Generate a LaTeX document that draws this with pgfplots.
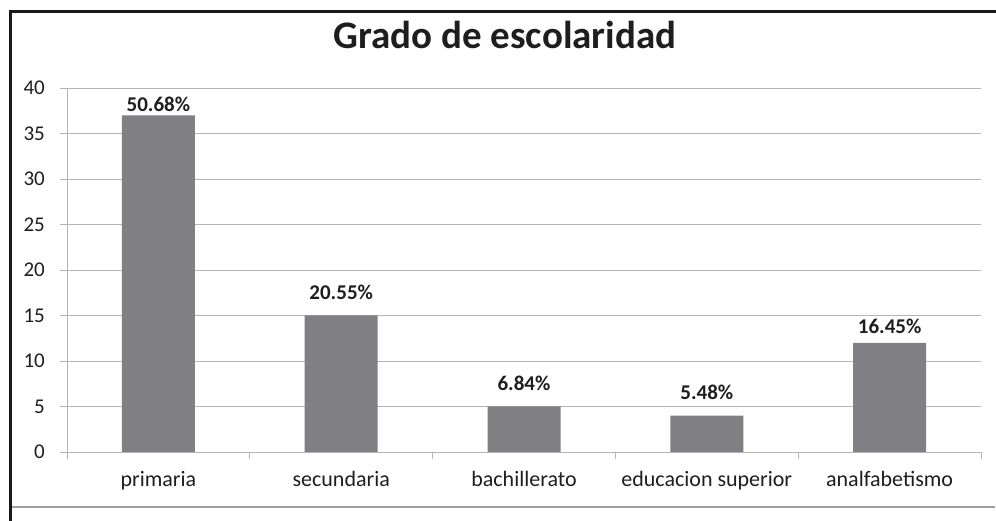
\documentclass[border=0pt]{standalone}
\usepackage{pgfplots}
\pgfplotsset{compat=1.18}
\usepackage{pgfplotstable}
\usepackage{fontspec}
\setmainfont{Carlito}
\definecolor{barfill}{RGB}{128,128,132}
\definecolor{gridc}{RGB}{180,180,180}
\definecolor{txt}{RGB}{30,30,30}

% values (count) and the printed share above each bar; dy = gap above bar
\pgfplotstableread{
x y lbl dy
0 37 50.68 4
1 15 20.55 15.7
2 5 6.84 15.7
3 4 5.48 15.7
4 12 16.45 9
}\escolaridad

\begin{document}
\begin{tikzpicture}[x=1pt,y=1pt]
\useasboundingbox (0,0) rectangle (996,521);
\begin{axis}[
  at={(67pt,69pt)}, anchor=south west,
  scale only axis, width=914pt, height=364pt,
  ybar, bar width=73pt,
  xmin=-0.5, xmax=4.5, ymin=0, ymax=40,
  ytick={0,5,...,40},
  xtick={0,...,4},
  xticklabels={primaria,secundaria,bachillerato,educacion superior,analfabetismo},
  minor xtick={-0.5,0.5,...,4.5},
  major x tick style={draw=none},
  tick align=outside,
  major tick length=7pt, minor tick length=7pt,
  tick style={draw=gridc, thick},
  axis x line*=bottom, axis y line*=left,
  axis line style={-, draw=gridc, thick},
  ymajorgrids, grid style={draw=gridc, thick},
  /pgf/number format/assume math mode=true,
  tick label style={text=txt},
  yticklabel style={inner sep=0pt, xshift=-15pt, font=\fontsize{21}{24}\selectfont},
  xticklabel style={anchor=base, inner sep=0pt, yshift=-28pt, font=\fontsize{22}{24}\selectfont},
  point meta=explicit symbolic,
  nodes near coords={\pgfplotspointmeta\%},
  visualization depends on={\thisrow{dy} \as \dy},
  every node near coord/.append style={anchor=base, inner sep=0pt,
    yshift=\dy pt, font=\bfseries\fontsize{21}{24}\selectfont, text=txt},
]
\addplot[fill=barfill, draw=none] table[x=x, y=y, meta=lbl] {\escolaridad};
\end{axis}
\node[anchor=base, font=\bfseries\fontsize{39}{42}\selectfont, text=txt] at (505,472) {Grado de escolaridad};
\draw[line width=3pt, black!90] (8.5,509.7) -- (996,509.7);
\draw[line width=3pt, black!90] (10,511.2) -- (10,0);
\draw[line width=2pt, black!38] (11.5,14) -- (995,14);
\end{tikzpicture}
\end{document}
